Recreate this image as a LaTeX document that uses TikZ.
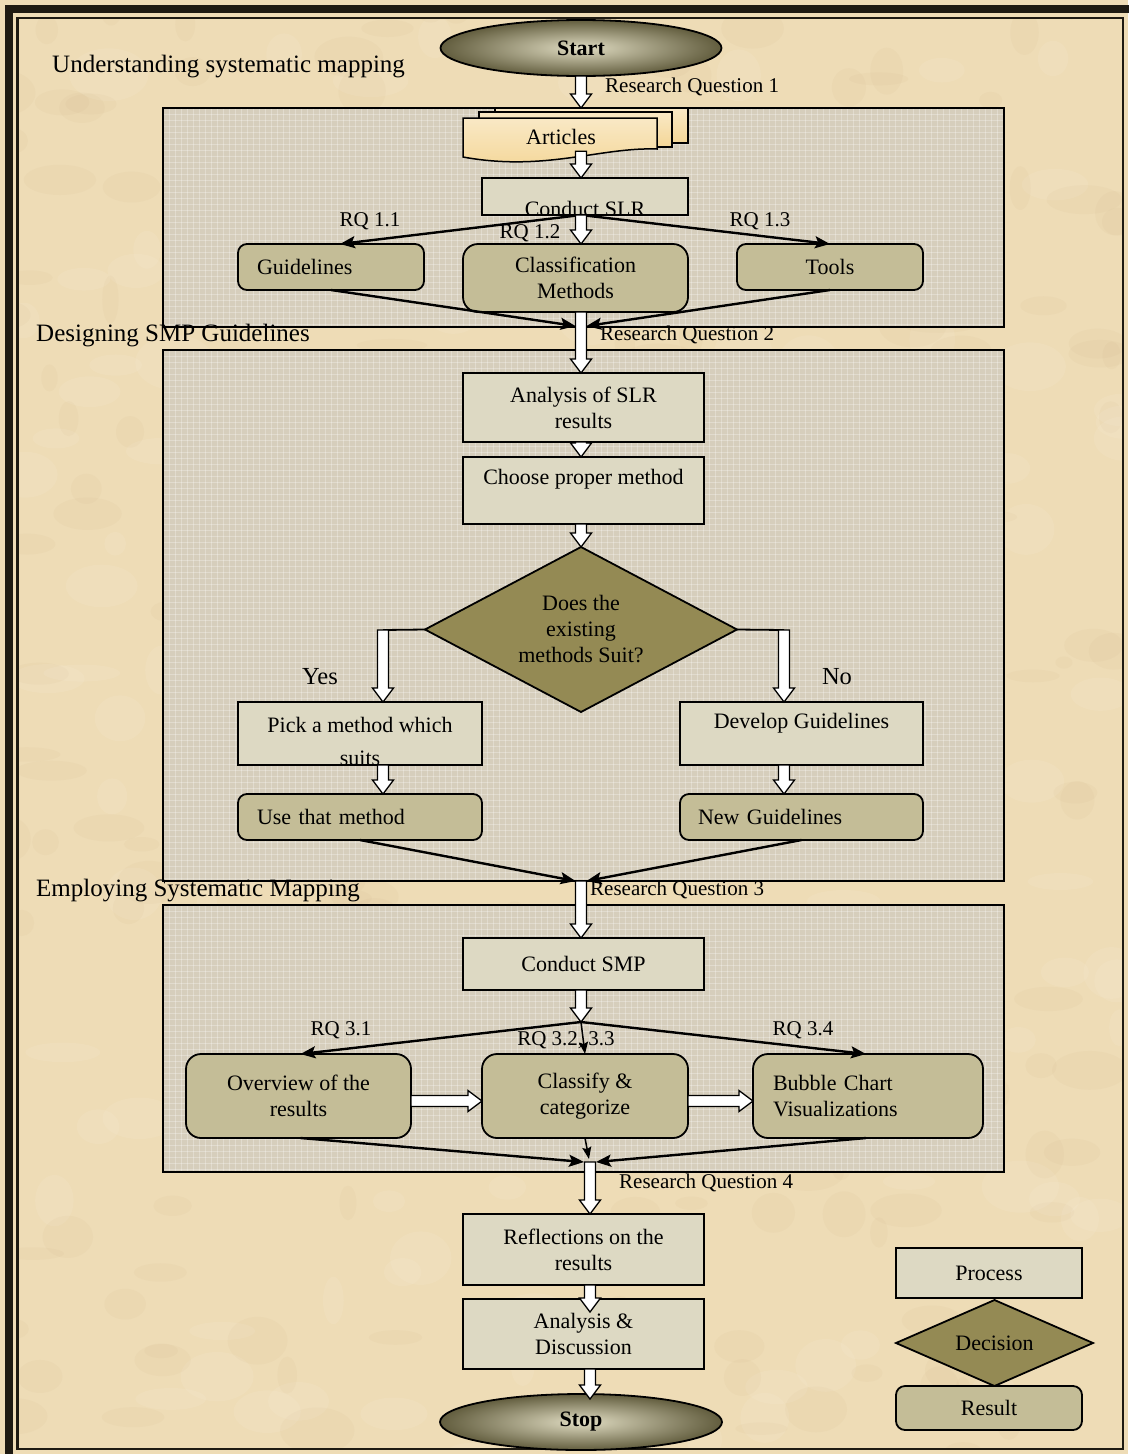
\documentclass[tikz,border=0pt]{standalone}
\usepackage{fontspec}
\setmainfont{Liberation Serif}
\usetikzlibrary{shapes.geometric, arrows.meta, calc}

\definecolor{parch}{RGB}{238,220,182}
\definecolor{parchdark}{RGB}{180,150,100}
\definecolor{panel}{RGB}{214,206,188}
\definecolor{procfill}{RGB}{221,217,195}
\definecolor{resfill}{RGB}{196,189,151}
\definecolor{decfill}{RGB}{148,138,84}
\definecolor{docfill}{RGB}{244,214,150}
\definecolor{framecol}{RGB}{30,26,18}
\definecolor{ovalin}{RGB}{224,220,194}
\definecolor{ovalout}{RGB}{98,93,62}

\newcommand\bxfont{\fontsize{22}{26}\selectfont}
\newcommand\rqfont{\fontsize{21}{24}\selectfont}
\newcommand\secfont{\fontsize{25}{28}\selectfont}
\newcommand\ynfont{\fontsize{24.5}{28}\selectfont}

\tikzset{
  proc/.style={draw, line width=1.8pt, fill=procfill, align=center, inner sep=0pt, outer sep=0pt, font=\bxfont},
  res/.style={proc, fill=resfill, rounded corners=9pt},
  bigres/.style={proc, fill=resfill, rounded corners=15pt},
  dec/.style={draw, line width=1.8pt, fill=decfill, diamond, inner sep=0pt, outer sep=0pt, align=center, font=\bxfont},
  term/.style={draw, line width=1.8pt, ellipse, inner sep=0pt, outer sep=0pt, inner color=ovalin, outer color=ovalout, font=\bxfont\bfseries},
  doc/.style={draw, line width=1.5pt, top color=docfill!55!white, bottom color=docfill, inner sep=0pt, outer sep=0pt},
  rq/.style={font=\rqfont, inner sep=0pt},
  yn/.style={font=\ynfont, inner sep=0pt},
  sect/.style={font=\secfont, inner sep=0pt, anchor=west},
  conn/.style={line width=2.4pt, -{Stealth[length=15pt,width=12pt,inset=3pt]}},
  thinconn/.style={line width=1.5pt, -{Stealth[length=12pt,width=9pt,inset=2pt]}},
  canvasline/.style={white, opacity=0.28, line width=0.8pt},
  edge box/.style={line width=1.8pt},
  blockarrow/.style={draw=black, fill=white, line width=1.3pt, to path={
    ($(\tikztostart)!5.5pt!90:(\tikztotarget)$) --
    ($(\tikztotarget)!14pt!(\tikztostart)!5.5pt!90:(\tikztotarget)$) --
    ($(\tikztotarget)!14pt!(\tikztostart)!10.5pt!90:(\tikztotarget)$) --
    (\tikztotarget) --
    ($(\tikztotarget)!14pt!(\tikztostart)!10.5pt!-90:(\tikztotarget)$) --
    ($(\tikztotarget)!14pt!(\tikztostart)!5.5pt!-90:(\tikztotarget)$) --
    ($(\tikztostart)!5.5pt!-90:(\tikztotarget)$) -- cycle}},
}

% textured grey panel behind each stage
\newcommand\canvaspanel[4]{%
  \fill[panel] (#1,#2) rectangle (#3,#4);
  \begin{scope}
    \clip (#1,#2) rectangle (#3,#4);
    \pgfmathtruncatemacro\gxb{#1+6}
    \foreach \gx in {#1,\gxb,...,#3} \draw[canvasline] (\gx,#2) -- (\gx,#4);
    \pgfmathtruncatemacro\gyb{#2+6}
    \foreach \gy in {#2,\gyb,...,#4} \draw[canvasline] (#1,\gy) -- (#3,\gy);
  \end{scope}
  \draw[line width=1.8pt] (#1,#2) rectangle (#3,#4);
}

\begin{document}
\begin{tikzpicture}[x=1pt, y=-1pt]
\useasboundingbox (0,0) rectangle (1128,1454);

% parchment ground with soft mottling
\fill[parch] (0,0) rectangle (1128,1454);
\begin{scope}
  \clip (18,18) rectangle (1123,1449);
  \pgfmathsetseed{11}
  \foreach \i in {1,...,260}{
    \pgfmathsetmacro\px{1128*rnd}
    \pgfmathsetmacro\py{1454*rnd}
    \pgfmathsetmacro\rx{8+30*rnd}
    \pgfmathsetmacro\ry{6+18*rnd}
    \fill[parchdark, opacity=0.05] (\px,\py) ellipse [x radius=\rx pt, y radius=\ry pt];
  }
  \foreach \i in {1,...,160}{
    \pgfmathsetmacro\px{1128*rnd}
    \pgfmathsetmacro\py{1454*rnd}
    \pgfmathsetmacro\rx{10+30*rnd}
    \pgfmathsetmacro\ry{8+20*rnd}
    \fill[white, opacity=0.07] (\px,\py) ellipse [x radius=\rx pt, y radius=\ry pt];
  }
\end{scope}

% double frame
\draw[framecol, line width=8pt] (9,9) rectangle (1145,1470);
\draw[framecol, line width=2.5pt] (17.5,18) rectangle (1123,1449);

% stage panels
\canvaspanel{163}{108}{1004}{327}
\canvaspanel{163}{350}{1004}{881}
\canvaspanel{163}{905}{1004}{1172}

\coordinate (ax) at (581,0);
\coordinate (ax2) at (590,0);

% ---------- stage 1 ----------
\node[term, minimum width=281pt, minimum height=56pt] (start) at (581,48) {Start};

\node[doc, minimum width=193pt, minimum height=35pt] (artc) at (591.5,125.5) {};
\node[doc, minimum width=193pt, minimum height=35pt] (artb) at (575.5,129.5) {};
\draw[doc] (463,118) -- (657,118) -- (657,149) .. controls (600,147) and (545,172) .. (463,157) -- cycle;
\node[font=\bxfont, inner sep=0pt, minimum width=194pt, minimum height=28pt] (art) at (561,137) {Articles};

\node[proc, minimum width=206pt, minimum height=37pt] (slr) at (585,196.5) {};
\begin{scope}
  \clip (slr.south west) rectangle (slr.north east);
  \node[font=\bxfont, inner sep=0pt, anchor=base] (slrtext) at (585,216) {Conduct SLR};
\end{scope}
\draw[edge box] (slr.south west) rectangle (slr.north east);

\node[res, minimum width=186pt, minimum height=46pt, text width=148pt, inner xsep=19pt, align=left] (guid) at (331,267) {Guidelines};
\node[res, minimum width=186pt, minimum height=46pt] (tools) at (830,267) {Tools};
\node[bigres, minimum width=225pt, minimum height=68pt] (cls) at (575.5,278) {Classification\\Methods};

\path[blockarrow] (start.south -| ax) to (ax |- artc.north);
\path[blockarrow] (ax |- art.south) to (ax |- slr.north);

\coordinate (f1) at (ax |- slr.south);
\draw[conn] (f1) -- ($(guid.north)+(9,0)$);
\draw[conn] (f1) -- (tools.north);
\path[blockarrow] (f1) to (ax |- cls.north);

\node[rq] (rq11) at (370,221) {RQ 1.1};
\node[rq] (rq12) at (530,233) {RQ 1.2};
\node[rq] (rq13) at (760,221) {RQ 1.3};
\node[rq, anchor=west] (rq1) at (605,87) {Research Question 1};

% ---------- stage 2 ----------
\node[proc, minimum width=241pt, minimum height=69pt] (an) at (583.5,407.5) {Analysis of SLR\\results};
\node[proc, minimum width=241pt, minimum height=67pt] (cpm) at (583.5,490.5) {Choose proper method\\[-7pt]\strut};
\node[dec, minimum width=312pt, minimum height=165pt, aspect=1.89] (dec) at (581,629.5) {Does the\\existing\\methods Suit?};

\coordinate (j1) at (581,326);
\path[blockarrow] (ax |- cls.south) to (ax |- an.north);
\draw[conn] (guid.south) -- ($(j1)+(-5.5,0)$);
\draw[conn] (tools.south) -- ($(j1)+(5.5,0)$);
\node[rq, anchor=west] (rq2) at (600,335) {Research Question 2};

\path[blockarrow] (ax |- an.south) to (ax |- cpm.north);
\path[blockarrow] (ax |- cpm.south) to (dec.north);

\node[proc, minimum width=244pt, minimum height=63pt] (pick) at (360,733.5) {};
\begin{scope}
  \clip (pick.south west) rectangle (pick.north east);
  \node[font=\fontsize{22}{33}\selectfont, align=center, inner sep=0pt] (picktext) at (360,741) {Pick a method which\\suits};
\end{scope}
\draw[edge box] (pick.south west) rectangle (pick.north east);
\node[proc, minimum width=243pt, minimum height=63pt] (dev) at (801.5,733.5) {Develop Guidelines\\[-9pt]\strut};

\node[res, minimum width=244pt, minimum height=46pt, text width=206pt, inner xsep=19pt, align=left] (use) at (360,817) {Use that method};
\node[res, minimum width=243pt, minimum height=46pt, text width=207pt, inner xsep=18pt, align=left] (newg) at (801.5,817) {New Guidelines};

\coordinate (yc) at (383,630);
\coordinate (nc) at (784,630);
\draw[line width=1.8pt] (dec.west) -- (yc);
\draw[line width=1.8pt] (dec.east) -- (nc);
\path[blockarrow] (yc) to (yc |- pick.north);
\path[blockarrow] (nc) to (nc |- dev.north);
\path[blockarrow] (yc |- pick.south) to (yc |- use.north);
\path[blockarrow] (nc |- dev.south) to (nc |- newg.north);
\node[yn] (yes) at (320,677) {Yes};
\node[yn] (no) at (837,677) {No};

% ---------- stage 3 ----------
\node[proc, minimum width=241pt, minimum height=52pt] (smp) at (583.5,964) {Conduct SMP};

\coordinate (j2) at (581,881);
\path[blockarrow] (j2) to (ax |- smp.north);
\draw[conn] (use.south) -- ($(j2)+(-5.5,0)$);
\draw[conn] (newg.south) -- ($(j2)+(5.5,0)$);
\node[rq, anchor=west] (rq3) at (590,890) {Research Question 3};

\node[bigres, minimum width=225pt, minimum height=84pt] (ov) at (298.5,1096) {Overview of the\\results};
\node[bigres, minimum width=206pt, minimum height=84pt] (cc) at (585,1096) {Classify \&\\categorize};
\node[bigres, minimum width=230pt, minimum height=84pt, text width=190pt, inner xsep=20pt, align=left] (bub) at (868,1096) {Bubble Chart\\Visualizations};

\coordinate (f3) at (581,1022);
\path[blockarrow] (ax |- smp.south) to (f3);
\draw[conn] (f3) -- ($(ov.north)+(2,0)$);
\draw[conn] (f3) -- ($(bub.north)+(-2,0)$);
\draw[thinconn] (f3) -- (cc.north);

\path[blockarrow] ($(ov.east)+(0,5)$) to ($(cc.west)+(0,5)$);
\path[blockarrow] ($(cc.east)+(0,5)$) to ($(bub.west)+(0,5)$);

\node[rq] (rq31) at (341,1030) {RQ 3.1};
\node[rq] (rq32) at (566,1040) {RQ 3.2, 3.3};
\node[rq] (rq34) at (803,1030) {RQ 3.4};

% ---------- stage 4 ----------
\node[proc, minimum width=241pt, minimum height=71pt] (refl) at (583.5,1249.5) {Reflections on the\\results};
\node[proc, minimum width=241pt, minimum height=70pt] (ad) at (583.5,1334) {Analysis \&\\Discussion};
\node[term, minimum width=282pt, minimum height=56pt] (stop) at (581,1422) {Stop};

\coordinate (j3) at (590,1162);
\path[blockarrow] (j3) to (ax2 |- refl.north);
\draw[conn] ($(ov.south)+(2,0)$) -- ($(j3)+(-6,0)$);
\draw[conn] ($(bub.south)+(-2,0)$) -- ($(j3)+(6,0)$);
\draw[thinconn] (cc.south) -- ($(j3)+(-1,-3)$);
\node[rq, anchor=west] (rq4) at (619,1183) {Research Question 4};

\path[blockarrow] (ax2 |- refl.south) to ($(ax2 |- ad.north)+(0,13)$);
\path[blockarrow] (ax2 |- ad.south) to ($(ax2 |- stop.north)+(0,5)$);

% ---------- key ----------
\node[proc, minimum width=186pt, minimum height=50pt] (keyproc) at (989,1273) {Process};
\node[dec, minimum width=197pt, minimum height=86pt, aspect=2.29] (keydec) at (994.5,1343) {Decision};
\node[res, minimum width=186pt, minimum height=44pt] (keyres) at (989,1408) {Result};

% stage titles
\node[sect] (t1) at (52,67) {Understanding systematic mapping};
\node[sect] (t2) at (36,336) {Designing SMP Guidelines};
\node[sect] (t3) at (36,891) {Employing Systematic Mapping};
\end{tikzpicture}
\end{document}
